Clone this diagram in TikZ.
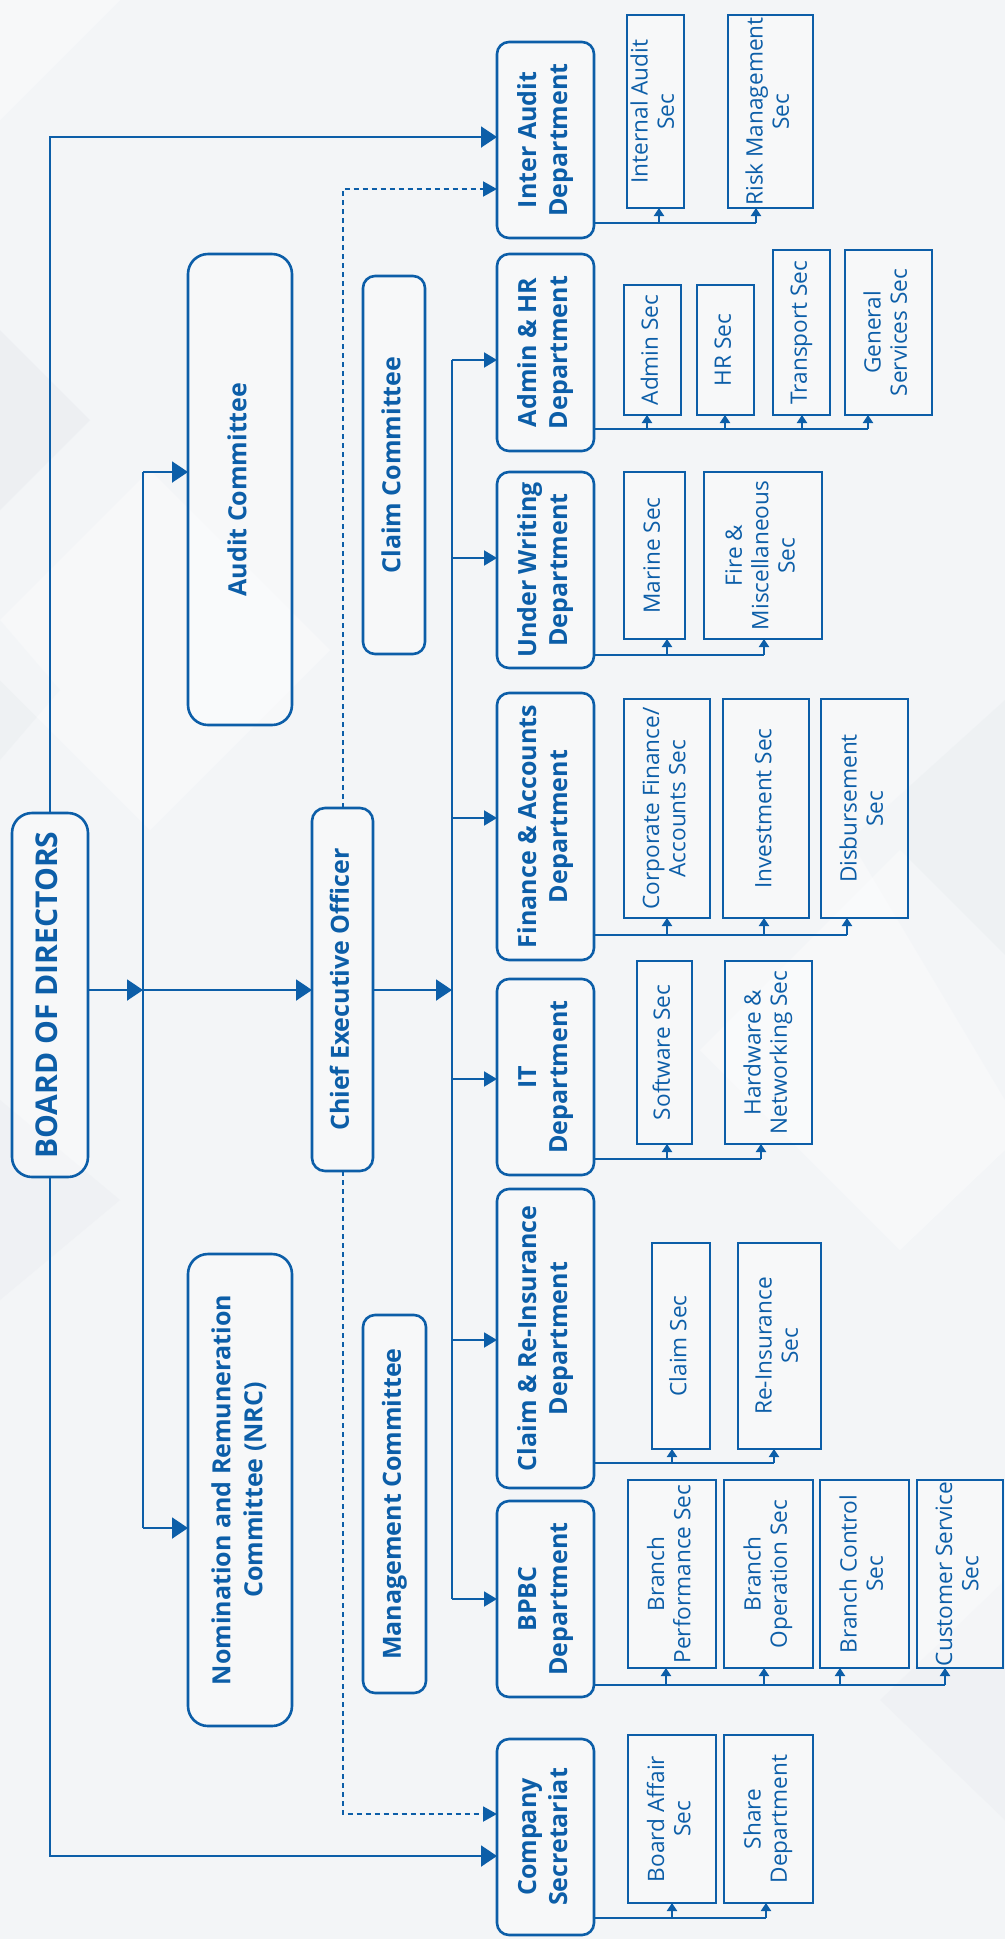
\documentclass[tikz,border=0pt]{standalone}
\usepackage{fontspec}
\setmainfont{Open Sans}
\usetikzlibrary{arrows.meta}
\definecolor{blu}{RGB}{12,94,168}
\definecolor{bgc}{RGB}{243,245,247}
\definecolor{bgd}{RGB}{232,235,239}
\newcommand\rt[1]{\rotatebox{90}{\begin{tabular}{@{}c@{}}#1\end{tabular}}}
\newcommand\bx[7]{\node[#1, minimum width={(#5-#3)*0.5pt}, minimum height={(#6-#4)*0.5pt}] (#2) at ({(#3+#5)/2},{(#4+#6)/2}) {\rt{#7}};}
\begin{document}
\begin{tikzpicture}[x=0.5pt,y=-0.5pt,
  box/.style={draw=blu, line width=1.3pt, fill=white, fill opacity=0.35, text opacity=1, text=blu, inner sep=0pt, outer sep=0pt},
  topbox/.style={box, rounded corners=10pt, font=\bfseries\fontsize{15pt}{18pt}\selectfont},
  ceobox/.style={box, rounded corners=6.5pt, font=\bfseries\fontsize{12.5pt}{16pt}\selectfont},
  commbig/.style={box, rounded corners=10pt, font=\bfseries\fontsize{12.5pt}{16pt}\selectfont},
  commsmall/.style={box, rounded corners=6pt, font=\bfseries\fontsize{12.5pt}{16pt}\selectfont},
  dept/.style={box, rounded corners=6pt, font=\bfseries\fontsize{12.5pt}{15.5pt}\selectfont},
  sec/.style={box, font=\fontsize{11.3pt}{13.2pt}\selectfont},
  conn/.style={draw=blu, line width=1pt},
  bigarr/.style={conn, -{Triangle[length=8pt,width=10.5pt]}},
  midarr/.style={conn, -{Triangle[length=6.5pt,width=7.5pt]}},
  smallarr/.style={conn, -{Triangle[length=4pt,width=5pt]}},
  dashline/.style={conn, dash pattern=on 2.5pt off 2pt, -{Triangle[length=7pt,width=7.5pt]}}
]
\useasboundingbox (0,0) rectangle (1005,1939);
% background
\fill[bgc] (0,0) rectangle (1005,1939);
\fill[white, opacity=0.35] (0,0) -- (120,0) -- (0,120) -- cycle;
\fill[bgd, opacity=0.5] (0,330) -- (90,420) -- (0,510) -- cycle;
\fill[bgd, opacity=0.4] (0,620) -- (60,690) -- (0,760) -- cycle;
\fill[white, opacity=0.35] (150,470) -- (330,650) -- (150,830) -- (-30,650) -- cycle;
\fill[bgd, opacity=0.4] (850,840) -- (1005,700) -- (1005,1100) -- cycle;
\fill[white, opacity=0.35] (700,1050) -- (900,850) -- (1005,955) -- (1005,1150) -- (900,1250) -- cycle;
\fill[bgd, opacity=0.35] (0,1100) -- (120,1200) -- (0,1300) -- cycle;
\fill[bgd, opacity=0.35] (880,1700) -- (1005,1580) -- (1005,1820) -- cycle;

% top level
\bx{topbox}{bod}{12}{813}{88}{1177}{BOARD OF DIRECTORS}
\bx{ceobox}{ceo}{312}{808}{373}{1171}{Chief Executive Officer}
\bx{commbig}{audit}{188}{254}{292}{725}{Audit Committee}
\bx{commbig}{nrc}{188}{1254}{292}{1726}{Nomination and Remuneration\\Committee (NRC)}
\bx{commsmall}{claimc}{363}{276}{425}{654}{Claim Committee}
\bx{commsmall}{mgmtc}{363}{1315}{426}{1693}{Management Committee}

% departments
\bx{dept}{ia}{497}{42}{594}{238}{Inter Audit\\Department}
\bx{dept}{ahr}{497}{254}{594}{451}{Admin \& HR\\Department}
\bx{dept}{uw}{497}{472}{594}{668}{Under Writing\\Department}
\bx{dept}{fa}{497}{693}{594}{960}{Finance \& Accounts\\Department}
\bx{dept}{it}{497}{979}{594}{1175}{IT\\Department}
\bx{dept}{cr}{497}{1189}{594}{1488}{Claim \& Re-Insurance\\Department}
\bx{dept}{bp}{497}{1501}{594}{1697}{BPBC\\Department}
\bx{dept}{cs}{497}{1739}{594}{1935}{Company\\Secretariat}

% sections
\bx{sec}{ia1}{627}{15}{684}{208}{Internal Audit\\Sec}
\bx{sec}{ia2}{728}{15}{813}{208}{Risk Management\\Sec}
\bx{sec}{ahr1}{624}{285}{681}{415}{Admin Sec}
\bx{sec}{ahr2}{697}{285}{754}{415}{HR Sec}
\bx{sec}{ahr3}{773}{250}{830}{415}{Transport Sec}
\bx{sec}{ahr4}{845}{250}{932}{415}{General\\Services Sec}
\bx{sec}{uw1}{624}{472}{685}{639}{Marine Sec}
\bx{sec}{uw2}{704}{472}{822}{639}{Fire \&\\Miscellaneous\\Sec}
\bx{sec}{fa1}{624}{699}{710}{918}{Corporate Finance/\\Accounts Sec}
\bx{sec}{fa2}{723}{699}{809}{918}{Investment Sec}
\bx{sec}{fa3}{821}{699}{908}{918}{Disbursement\\Sec}
\bx{sec}{it1}{637}{961}{692}{1144}{Software Sec}
\bx{sec}{it2}{725}{961}{812}{1144}{Hardware \&\\Networking Sec}
\bx{sec}{cr1}{652}{1243}{710}{1449}{Claim Sec}
\bx{sec}{cr2}{738}{1243}{821}{1449}{Re-Insurance\\Sec}
\bx{sec}{bp1}{628}{1480}{716}{1668}{Branch\\Performance Sec}
\bx{sec}{bp2}{724}{1480}{813}{1668}{Branch\\Operation Sec}
\bx{sec}{bp3}{820}{1480}{909}{1668}{Branch Control\\Sec}
\bx{sec}{bp4}{917}{1480}{1003}{1668}{Customer Service\\Sec}
\bx{sec}{cs1}{628}{1735}{716}{1903}{Board Affair\\Sec}
\bx{sec}{cs2}{724}{1735}{813}{1903}{Share\\Department}

% board level connectors
\coordinate (lb) at (143,990);
\coordinate (rb) at (452,990);
\draw[bigarr] (bod.east |- lb) -- (lb);
\draw[bigarr] (lb) -- (ceo.west |- lb);
\draw[conn] (143,472) -- (143,1528);
\draw[bigarr] (143,472) -- (audit.west |- 0,472);
\draw[bigarr] (143,1528) -- (nrc.west |- 0,1528);
\draw[bigarr] (bod.north) |- (ia.west |- 0,137);
\draw[bigarr] (bod.south) |- (cs.west |- 0,1856);
\draw[dashline] (ceo.north) |- (ia.west |- 0,189);
\draw[dashline] (ceo.south) |- (cs.west |- 0,1814);

% CEO to departments
\draw[bigarr] (ceo.east |- rb) -- (rb);
\draw[conn] (452,360) -- (452,1599);
\draw[midarr] (452,360) -- (ahr.west |- 0,360);
\draw[midarr] (452,558) -- (uw.west |- 0,558);
\draw[midarr] (452,818) -- (fa.west |- 0,818);
\draw[midarr] (452,1079) -- (it.west |- 0,1079);
\draw[midarr] (452,1340) -- (cr.west |- 0,1340);
\draw[midarr] (452,1599) -- (bp.west |- 0,1599);

% departments to sections
\draw[conn] (ia.east |- 0,223) -- (756,223);
\draw[smallarr] (659,223) -- (ia1.south -| 659,0);
\draw[smallarr] (756,223) -- (ia2.south -| 756,0);

\draw[conn] (ahr.east |- 0,429) -- (868,429);
\draw[smallarr] (647,429) -- (ahr1.south -| 647,0);
\draw[smallarr] (725,429) -- (ahr2.south -| 725,0);
\draw[smallarr] (802,429) -- (ahr3.south -| 802,0);
\draw[smallarr] (868,429) -- (ahr4.south -| 868,0);

\draw[conn] (uw.east |- 0,655) -- (764,655);
\draw[smallarr] (667,655) -- (uw1.south -| 667,0);
\draw[smallarr] (764,655) -- (uw2.south -| 764,0);

\draw[conn] (fa.east |- 0,935) -- (847,935);
\draw[smallarr] (667,935) -- (fa1.south -| 667,0);
\draw[smallarr] (764,935) -- (fa2.south -| 764,0);
\draw[smallarr] (847,935) -- (fa3.south -| 847,0);

\draw[conn] (it.east |- 0,1159) -- (761,1159);
\draw[smallarr] (667,1159) -- (it1.south -| 667,0);
\draw[smallarr] (761,1159) -- (it2.south -| 761,0);

\draw[conn] (cr.east |- 0,1463) -- (774,1463);
\draw[smallarr] (672,1463) -- (cr1.south -| 672,0);
\draw[smallarr] (774,1463) -- (cr2.south -| 774,0);

\draw[conn] (bp.east |- 0,1685) -- (945,1685);
\draw[smallarr] (666,1685) -- (bp1.south -| 666,0);
\draw[smallarr] (764,1685) -- (bp2.south -| 764,0);
\draw[smallarr] (840,1685) -- (bp3.south -| 840,0);
\draw[smallarr] (945,1685) -- (bp4.south -| 945,0);

\draw[conn] (cs.east |- 0,1918) -- (766,1918);
\draw[smallarr] (672,1918) -- (cs1.south -| 672,0);
\draw[smallarr] (766,1918) -- (cs2.south -| 766,0);
\end{tikzpicture}
\end{document}
